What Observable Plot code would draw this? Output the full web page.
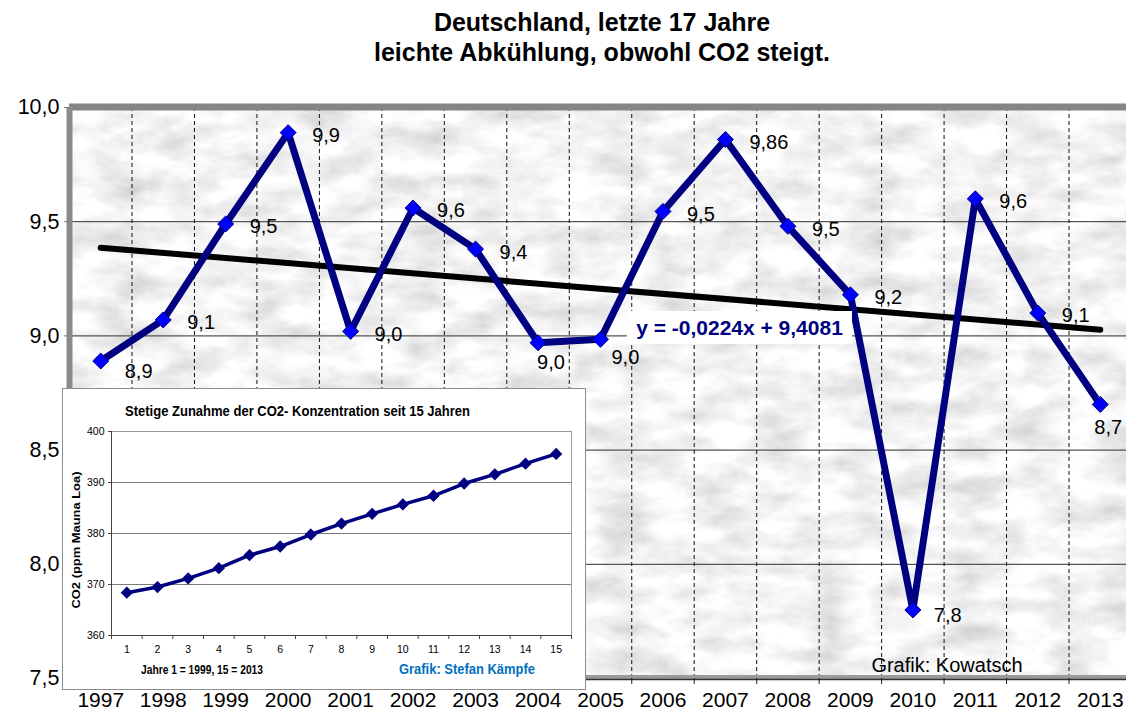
<!DOCTYPE html>
<html>
<head>
<meta charset="utf-8">
<script src="https://cdn.jsdelivr.net/npm/d3@7"></script>
<script src="https://cdn.jsdelivr.net/npm/@observablehq/plot@0.6"></script>
<style>
  html, body { margin: 0; padding: 0; background: #fff; }
  body { width: 1126px; height: 713px; overflow: hidden; position: relative;
         font-family: "Liberation Sans", Arial, sans-serif; }
  .abs { position: absolute; }
  svg.overlay { position: absolute; left: 0; top: 0; pointer-events: none; overflow: visible; }
</style>
</head>
<body>
<svg class="overlay" width="1126" height="75" id="titlebox">
  <text x="602" y="31" text-anchor="middle" font-weight="bold" font-size="25" fill="#000">Deutschland, letzte 17 Jahre</text>
  <text x="602" y="61" text-anchor="middle" font-weight="bold" font-size="25" fill="#000">leichte Abkühlung, obwohl CO2 steigt.</text>
</svg>
<div id="main" class="abs" style="left:0; top:75px;"></div>
<div id="eq" class="abs" style="left:627px; top:311px; width:225px; height:33px; background:#fff; color:#000080; font-weight:bold; font-size:21px; line-height:33px; text-align:center; white-space:nowrap;">y = -0,0224x + 9,4081</div>
<svg class="overlay" width="1126" height="713">
  <text x="947" y="672" text-anchor="middle" font-size="20" fill="#000">Grafik: Kowatsch</text>
</svg>
<div id="inset" class="abs" style="left:62px; top:388px; width:522px; height:300px; border:1px solid #8c8c8c; background:#fff;">
  <div id="insetPlot" class="abs" style="left:0; top:0;"></div>
  <svg class="overlay" width="522" height="300" style="font-family:'Liberation Sans', Arial, sans-serif;">
    <text x="62" y="27" font-weight="bold" font-size="15" textLength="345" lengthAdjust="spacingAndGlyphs" fill="#000">Stetige Zunahme der CO2- Konzentration seit 15 Jahren</text>
    <text x="17" y="151" text-anchor="middle" transform="rotate(-90 17 151)" font-weight="bold" font-size="11" textLength="137" lengthAdjust="spacingAndGlyphs" fill="#000">CO2 (ppm Mauna Loa)</text>
    <text x="78" y="285" font-weight="bold" font-size="12" textLength="122" lengthAdjust="spacingAndGlyphs" fill="#000">Jahre 1 = 1999, 15 = 2013</text>
    <text x="336" y="285" font-weight="bold" font-size="14" textLength="136" lengthAdjust="spacingAndGlyphs" fill="#0070C0">Grafik: Stefan Kämpfe</text>
  </svg>
</div>
<script>
// ---------- Main chart data ----------
const years = [1997, 1998, 1999, 2000, 2001, 2002, 2003, 2004, 2005, 2006, 2007, 2008, 2009, 2010, 2011, 2012, 2013];
const temps = [8.89, 9.07, 9.49, 9.89, 9.02, 9.56, 9.38, 8.97, 8.985, 9.545, 9.86, 9.48, 9.18, 7.80, 9.60, 9.10, 8.70];
const tempLabels = ["8,9", "9,1", "9,5", "9,9", "9,0", "9,6", "9,4", "9,0", "9,0", "9,5", "9,86", "9,5", "9,2", "7,8", "9,6", "9,1", "8,7"];
const yTicks = [7.5, 8.0, 8.5, 9.0, 9.5, 10.0];
const gridValues = [8.0, 8.5, 9.0, 9.5];
const trendSlope = -0.0224;
const trendIntercept = 9.4081;

// ---------- Inset data ----------
const co2Index = [1, 2, 3, 4, 5, 6, 7, 8, 9, 10, 11, 12, 13, 14, 15];
const co2 = [368.4, 369.5, 371.2, 373.2, 375.75, 377.45, 379.8, 381.95, 383.85, 385.7, 387.4, 389.8, 391.6, 393.7, 395.6];
const co2Ticks = [360, 370, 380, 390, 400];
const co2Grid = [370, 380, 390];

// label placement (pixel offsets from each point)
const labelOffsets = {1997: [24, 11], 2004: [-1, 20], 2005: [11, 18], 2010: [21, 6], 2013: [-6, 23]};
const defaultOffset = [24, 3];

const tempData = years.map((y, i) => ({year: y, t: temps[i], label: tempLabels[i]}));
const trendData = [years[0], years[years.length - 1]].map(y => ({year: y, t: trendSlope * (y - years[0] + 1) + trendIntercept}));
const boundaries = years.slice(0, -1).map(y => y + 0.5);
const comma1 = d => d.toFixed(1).replace(".", ",");

const labelMarks = tempData.map(d => {
  const [dx, dy] = labelOffsets[d.year] || defaultOffset;
  return Plot.text([d], {x: "year", y: "t", text: "label", dx, dy, textAnchor: "start", lineAnchor: "middle", fontSize: 20, fill: "#000"});
});

const main = Plot.plot({
  width: 1126,
  height: 638,
  marginTop: 32,
  marginBottom: 35,
  marginLeft: 69,
  marginRight: 0,
  style: {background: "transparent", fontFamily: "'Liberation Sans', Arial, sans-serif", overflow: "visible"},
  x: {domain: [1996.5, 2013.5], range: [69, 1131]},
  y: {domain: [7.5, 10]},
  marks: [
    Plot.ruleY(gridValues, {stroke: "#555", strokeWidth: 1.3}),
    Plot.ruleX(boundaries, {stroke: "#111", strokeWidth: 1, strokeDasharray: "4,3"}),
    Plot.ruleY([10], {stroke: "#858585", strokeWidth: 7, dy: -0.5}),
    Plot.ruleX([1996.5], {stroke: "#8a8a8a", strokeWidth: 6}),
    Plot.ruleY([7.5], {stroke: "#9a9a9a", strokeWidth: 5, dy: -1}),
    Plot.ruleY([7.5], {stroke: "#333", strokeWidth: 1.5, dy: 1}),
    Plot.axisX({ticks: boundaries, tickSize: 6, tickFormat: () => "", stroke: "#222", label: null}),
    Plot.axisX({ticks: years, tickSize: 0, tickPadding: 14, tickFormat: d => String(d), fontSize: 21, fill: "#000", label: null}),
    Plot.axisY({ticks: yTicks, tickSize: 5, tickPadding: 5, tickFormat: comma1, fontSize: 21.5, fill: "#000", stroke: "#777", label: null}),
    Plot.line(trendData, {x: "year", y: "t", stroke: "#000", strokeWidth: 6, strokeLinecap: "round"}),
    Plot.line(tempData, {x: "year", y: "t", stroke: "#000080", strokeWidth: 7, strokeLinejoin: "round"}),
    Plot.dot(tempData, {x: "year", y: "t", symbol: "diamond2", r: 7.2, fill: "#0000ff", stroke: "#000080", strokeWidth: 1}),
    ...labelMarks
  ]
});

// marble-like background texture under the marks
(function addMarble(svg) {
  const ns = "http://www.w3.org/2000/svg";
  const defs = document.createElementNS(ns, "defs");
  defs.innerHTML = '<filter id="marble" x="0" y="0" width="100%" height="100%" filterUnits="objectBoundingBox">' +
    '<feTurbulence type="fractalNoise" baseFrequency="0.02 0.04" numOctaves="5" seed="11" result="n"/>' +
    '<feColorMatrix in="n" type="matrix" values="0.6 0 0 0 0.6  0.6 0 0 0 0.6  0.6 0 0 0 0.61  0 0 0 0 1"/>' +
    '</filter>';
  const rect = document.createElementNS(ns, "rect");
  rect.setAttribute("x", 69); rect.setAttribute("y", 32);
  rect.setAttribute("width", 1126 - 69); rect.setAttribute("height", 603 - 32);
  rect.setAttribute("filter", "url(#marble)");
  rect.setAttribute("fill", "#e4e4e4");
  const style = svg.querySelector("style");
  const after = style ? style.nextSibling : svg.firstChild;
  svg.insertBefore(defs, after);
  svg.insertBefore(rect, after);
})(main);

document.getElementById("main").appendChild(main);

// ---------- Inset chart ----------
const co2Data = co2Index.map((k, i) => ({k, v: co2[i]}));
const co2Bounds = [0.5, ...co2Index.map(k => k + 0.5)];
const inset = Plot.plot({
  width: 522,
  height: 300,
  marginLeft: 48,
  marginRight: 14,
  marginTop: 42,
  marginBottom: 54,
  style: {background: "transparent", fontFamily: "'Liberation Sans', Arial, sans-serif", overflow: "visible"},
  x: {domain: [0.5, 15.5]},
  y: {domain: [360, 400]},
  marks: [
    Plot.ruleY(co2Grid, {stroke: "#7a7a7a", strokeWidth: 1}),
    Plot.frame({stroke: "#9a9a9a", strokeWidth: 1}),
    Plot.ruleX([0.5], {stroke: "#444", strokeWidth: 1}),
    Plot.ruleY([360], {stroke: "#444", strokeWidth: 1}),
    Plot.axisX({ticks: co2Bounds, tickSize: 4, tickFormat: () => "", stroke: "#444", label: null}),
    Plot.axisX({ticks: co2Index, tickSize: 0, tickPadding: 10, fontSize: 10.5, fill: "#000", label: null}),
    Plot.axisY({ticks: co2Ticks, tickSize: 3, tickPadding: 4, fontSize: 10.5, fill: "#000", stroke: "#444", label: null}),
    Plot.line(co2Data, {x: "k", y: "v", stroke: "#000080", strokeWidth: 3.5}),
    Plot.dot(co2Data, {x: "k", y: "v", symbol: "diamond2", r: 4.6, fill: "#000080", stroke: "#000080"})
  ]
});
document.getElementById("insetPlot").appendChild(inset);
</script>
</body>
</html>
